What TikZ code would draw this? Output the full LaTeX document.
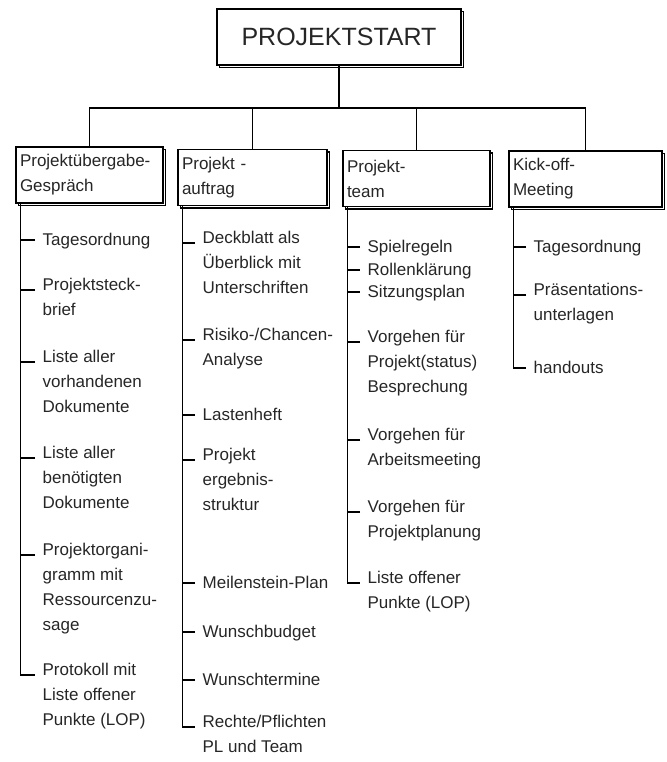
\documentclass[tikz,border=0pt]{standalone}
\usepackage{fontspec}
\setmainfont{Liberation Sans}
\usetikzlibrary{shadows}
\begin{document}
\begin{tikzpicture}[x=1pt,y=-1pt,
  line width=1.3pt,
  hbox/.style={draw=black, fill=white, line width=1.3pt, inner sep=4pt, align=left,
    text=black!85, font=\fontsize{17}{25}\selectfont,
    copy shadow={shadow xshift=2.5pt, shadow yshift=-2.5pt, draw=black, fill=white, line width=1.6pt}},
  item/.style={anchor=north west, inner sep=0pt, align=left, text=black!85,
    font=\fontsize{17}{25}\selectfont, execute at begin node=\strut},
  twig/.style={draw=black, line width=1.3pt}]
\useasboundingbox (0,0) rectangle (666,762);

% top box
\node[hbox, minimum width=244pt, minimum height=56pt, align=center,
  font=\fontsize{25}{30}\selectfont] (top) at (339,37) {PROJEKTSTART};

% second level boxes
\node[hbox, minimum width=147pt, minimum height=56pt, text width=139pt] (b1) at (89.5,175) {Projektübergabe-\\Gespräch};
\node[hbox, minimum width=149pt, minimum height=56pt, text width=141pt] (b2) at (252.5,177.5) {Projekt -\\auftrag};
\node[hbox, minimum width=147pt, minimum height=56pt, text width=139pt] (b3) at (416.5,178.5) {Projekt-\\team};
\node[hbox, minimum width=153pt, minimum height=56pt, text width=145pt] (b4) at (585.5,179) {Kick-off-\\Meeting};

% tree connectors
\coordinate (bus) at (0,108);
\draw (top.south) -- (top.south |- bus);
\draw (b1.north) |- (b4.north |- bus) -- (b4.north);
\draw (b2.north) -- (b2.north |- bus);
\draw (b3.north) -- (b3.north |- bus);

% column 1 (positions: first-line centre minus 12.5)
\node[item] (a1) at (42,227.5) {Tagesordnung};
\node[item] (a2) at (42,277.5) {Projektsteck-\\brief};
\node[item] (a3) at (42,349.5) {Liste aller\\vorhandenen\\Dokumente};
\node[item] (a4) at (42,445.5) {Liste aller\\benötigten\\Dokumente};
\node[item] (a5) at (42,542.5) {Projektorgani-\\gramm mit\\Ressourcenzu-\\sage};
\node[item] (a6) at (42,662.5) {Protokoll mit\\Liste offener\\Punkte (LOP)};

% column 2
\node[item] (c1) at (202,230.5) {Deckblatt als\\Überblick mit\\Unterschriften};
\node[item] (c2) at (202,327.5) {Risiko-/Chancen-\\Analyse};
\node[item] (c3) at (202,402.5) {Lastenheft};
\node[item] (c4) at (202,447.5) {Projekt\\ergebnis-\\struktur};
\node[item] (c5) at (202,570.5) {Meilenstein-Plan};
\node[item] (c6) at (202,619.5) {Wunschbudget};
\node[item] (c7) at (202,667.5) {Wunschtermine};
\node[item] (c8) at (202,714.5) {Rechte/Pflichten\\PL und Team};

% column 3
\node[item] (d1) at (367,234.5) {Spielregeln};
\node[item] (d2) at (367,257.5) {Rollenklärung};
\node[item] (d3) at (367,279.5) {Sitzungsplan};
\node[item] (d4) at (367,329.5) {Vorgehen für\\Projekt(status)\\Besprechung};
\node[item] (d5) at (367,427.5) {Vorgehen für\\Arbeitsmeeting};
\node[item] (d6) at (367,499.5) {Vorgehen für\\Projektplanung};
\node[item] (d7) at (367,570.5) {Liste offener\\Punkte (LOP)};

% column 4
\node[item] (e1) at (533,234.5) {Tagesordnung};
\node[item] (e2) at (533,282.5) {Präsentations-\\unterlagen};
\node[item] (e3) at (533,355.5) {handouts};

% column spines
\coordinate (v1) at ([xshift=5pt]b1.south west);
\coordinate (v2) at ([xshift=5pt]b2.south west);
\coordinate (v3) at ([xshift=5pt]b3.south west);
\coordinate (v4) at ([xshift=5pt]b4.south west);

\foreach \n in {a1,a2,a3,a4,a5,a6,c1,c2,c3,c4,c5,c6,c7,c8,d1,d2,d3,d4,d5,d6,d7,e1,e2,e3}
  \coordinate (\n t) at ([shift={(-7,12.5)}]\n.north west);

\foreach \n in {a1,a2,a3,a4,a5} \draw[twig] (\n t) -- (\n t -| v1);
\draw[twig] (v1) |- (a6t);
\foreach \n in {c1,c2,c3,c4,c5,c6,c7} \draw[twig] (\n t) -- (\n t -| v2);
\draw[twig] (v2) |- (c8t);
\foreach \n in {d1,d2,d3,d4,d5,d6} \draw[twig] (\n t) -- (\n t -| v3);
\draw[twig] (v3) |- (d7t);
\foreach \n in {e1,e2} \draw[twig] (\n t) -- (\n t -| v4);
\draw[twig] (v4) |- (e3t);
\end{tikzpicture}
\end{document}
